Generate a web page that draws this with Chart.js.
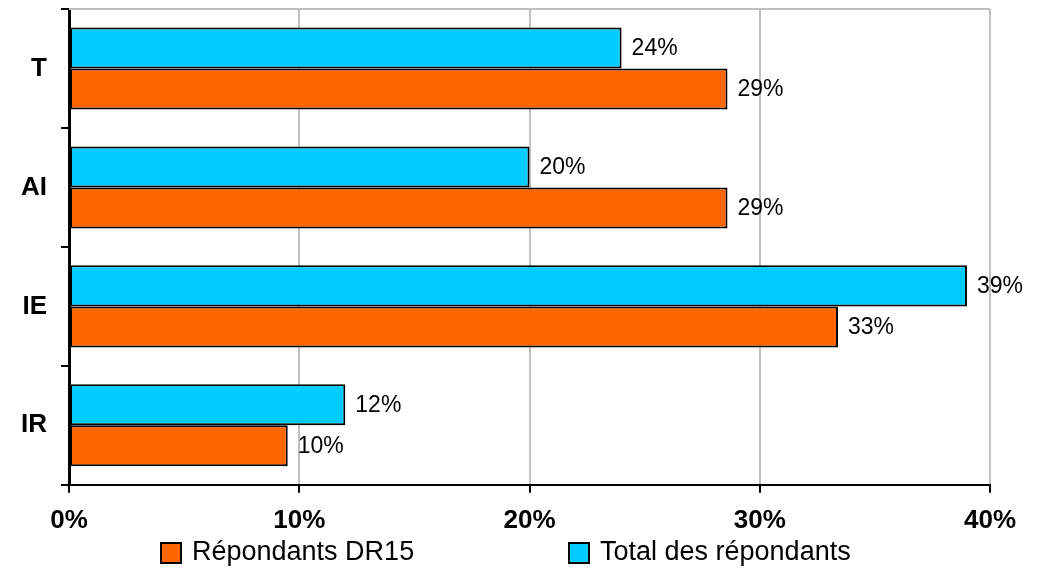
<!DOCTYPE html>
<html>
<head>
<meta charset="utf-8">
<script src="https://cdn.jsdelivr.net/npm/chart.js@4/dist/chart.umd.min.js"></script>
<style>
  body { margin: 0; background: #fff; }
  #wrap { width: 1042px; height: 569px; }
</style>
</head>
<body>
<div id="wrap"><canvas id="myChart"></canvas></div>
<script>
const categories = ['T', 'AI', 'IE', 'IR'];
const totalRepondants = [24, 20, 39, 12];
const repondantsDR15 = [28.6, 28.6, 33.4, 9.5];
const legendLabels = ['Répondants DR15', 'Total des répondants'];

const FONT = "'Liberation Sans', Arial, sans-serif";

// value labels at the end of each bar
const barLabels = {
    id: 'barLabels',
    afterDatasetsDraw(chart) {
        const ctx = chart.ctx;
        ctx.save();
        ctx.font = '23px ' + FONT;
        ctx.fillStyle = '#000';
        ctx.textBaseline = 'middle';
        chart.data.datasets.forEach((ds, i) => {
            chart.getDatasetMeta(i).data.forEach((bar, j) => {
                ctx.fillText(Math.round(ds.data[j]) + '%', bar.x + 10, bar.y + 1);
            });
        });
        ctx.restore();
    }
};

// top border of plot area + legend at the bottom
const frame = {
    id: 'frame',
    afterDraw(chart) {
        const ctx = chart.ctx;
        const a = chart.chartArea;
        ctx.save();
        ctx.strokeStyle = '#c0c0c0';
        ctx.lineWidth = 2;
        ctx.beginPath();
        ctx.moveTo(a.left, a.top);
        ctx.lineTo(a.right, a.top);
        ctx.stroke();

        const items = [
            { text: legendLabels[0], color: '#FF6600', x: 161 },
            { text: legendLabels[1], color: '#00CCFF', x: 569 }
        ];
        ctx.font = '27px ' + FONT;
        ctx.textBaseline = 'middle';
        items.forEach(it => {
            ctx.fillStyle = it.color;
            ctx.fillRect(it.x, 543, 20, 20);
            ctx.strokeStyle = '#000';
            ctx.lineWidth = 2;
            ctx.strokeRect(it.x, 543, 20, 20);
            ctx.fillStyle = '#000';
            ctx.fillText(it.text, it.x + 31, 553);
        });
        ctx.restore();
    }
};

const noEdgePadding = scale => {
    scale.paddingTop = 0;
    scale.paddingBottom = 0;
    scale.paddingLeft = 0;
    scale.paddingRight = 0;
};

const data = {
    labels: categories,
    datasets: [
        {
            label: legendLabels[1],
            data: totalRepondants,
            backgroundColor: '#00CCFF',
            borderColor: '#000',
            borderWidth: 2,
            borderSkipped: false
        },
        {
            label: legendLabels[0],
            data: repondantsDR15,
            backgroundColor: '#FF6600',
            borderColor: '#000',
            borderWidth: 2,
            borderSkipped: false
        }
    ]
};

const config = {
    type: 'bar',
    data,
    options: {
        indexAxis: 'y',
        responsive: true,
        maintainAspectRatio: false,
        animation: false,
        devicePixelRatio: 1,
        categoryPercentage: 0.69,
        barPercentage: 1.0,
        layout: { padding: { left: 7, right: 52, top: 9, bottom: 21 } },
        plugins: {
            legend: { display: false },
            tooltip: { enabled: false }
        },
        scales: {
            x: {
                min: 0,
                max: 40,
                afterFit: noEdgePadding,
                ticks: {
                    stepSize: 10,
                    callback: v => v + '%',
                    color: '#000',
                    padding: 12,
                    font: { family: FONT, size: 26, weight: 'bold' }
                },
                grid: {
                    color: c => c.index === 0 ? 'rgba(0,0,0,0)' : '#c0c0c0',
                    lineWidth: 2,
                    tickColor: '#000',
                    tickLength: 8
                },
                border: { color: '#000', width: 2 }
            },
            y: {
                afterFit: noEdgePadding,
                ticks: {
                    color: '#000',
                    padding: 14,
                    font: { family: FONT, size: 26, weight: 'bold' }
                },
                grid: {
                    offset: true,
                    drawOnChartArea: false,
                    color: '#000',
                    lineWidth: 2,
                    tickLength: 8
                },
                border: { color: '#000', width: 3 }
            }
        }
    },
    plugins: [barLabels, frame]
};

const myChart = new Chart(document.getElementById('myChart'), config);
</script>
</body>
</html>
